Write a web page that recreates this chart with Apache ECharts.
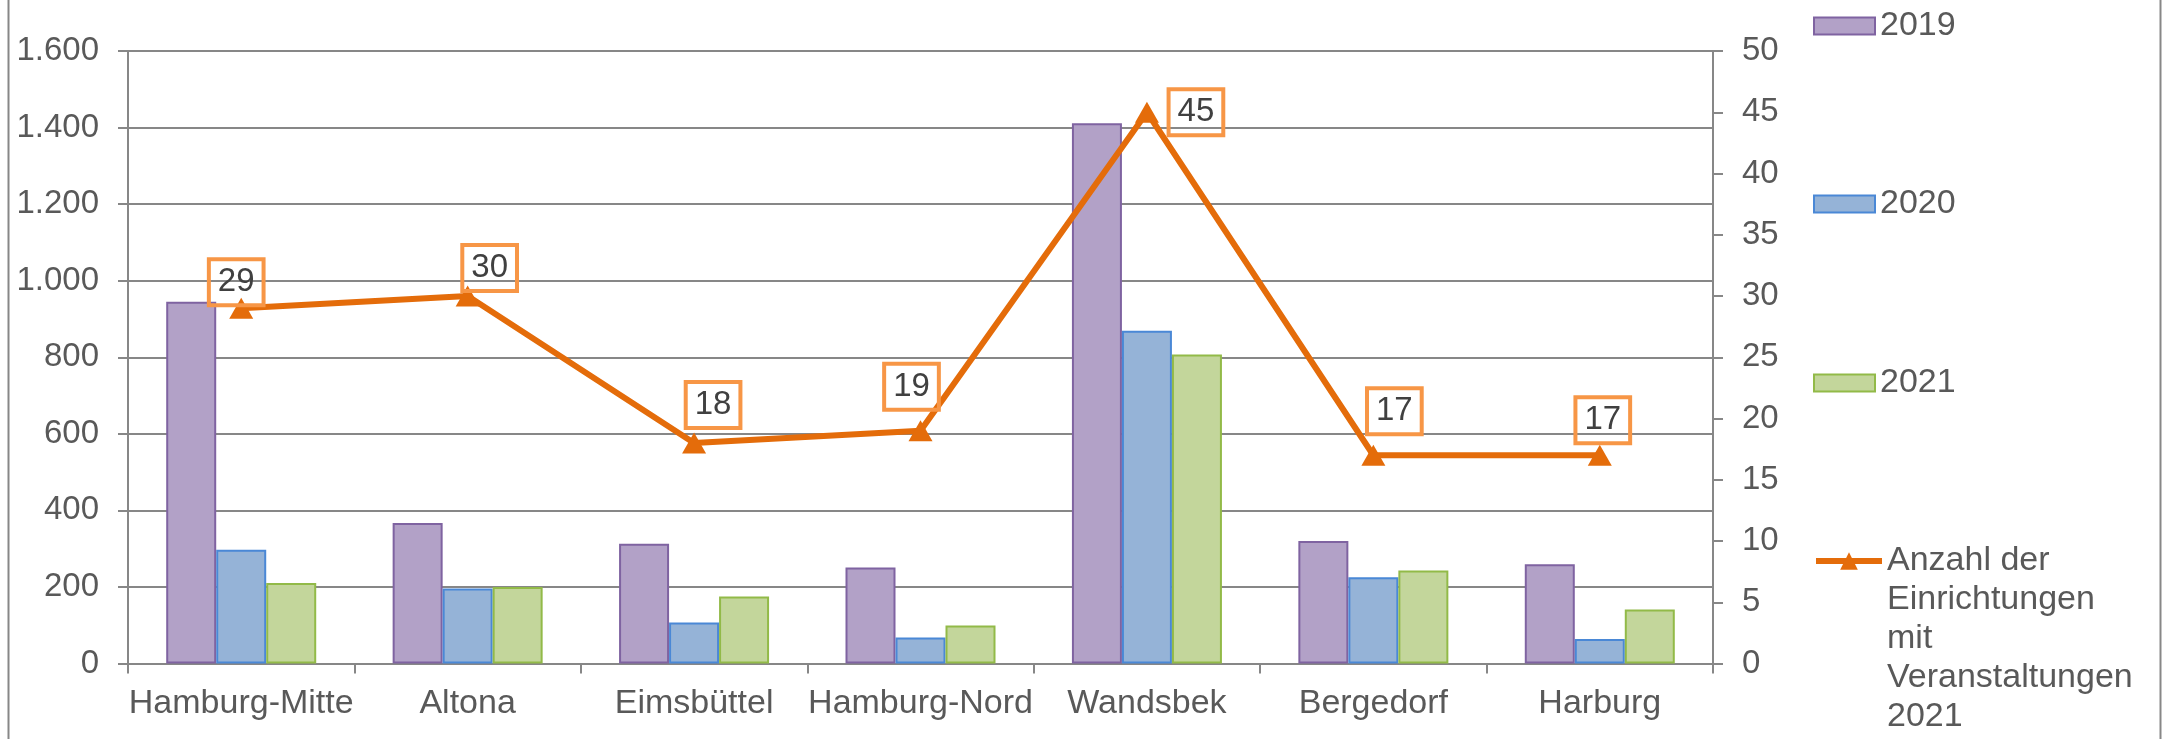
<!DOCTYPE html>
<html>
<head>
<meta charset="utf-8">
<script src="https://cdn.jsdelivr.net/npm/echarts@6/dist/echarts.min.js"></script>
<style>
  html, body { margin: 0; padding: 0; background: #ffffff; }
  #chart { width: 2163px; height: 739px; }
</style>
</head>
<body>
<div id="chart"></div>
<script>
// ---- data ----
const categories = ['Hamburg-Mitte', 'Altona', 'Eimsbüttel', 'Hamburg-Nord', 'Wandsbek', 'Bergedorf', 'Harburg'];
const values2019 = [945, 367, 313, 251, 1411, 320, 259];
const values2020 = [297, 196, 107, 68, 869, 225, 64];
const values2021 = [210, 200, 175, 99, 807, 243, 141];
const einrichtungen2021 = [29, 30, 18, 19, 45, 17, 17];
const leftTickLabels = ['0', '200', '400', '600', '800', '1.000', '1.200', '1.400', '1.600'];
const rightTickLabels = ['0', '5', '10', '15', '20', '25', '30', '35', '40', '45', '50'];
const seriesNames = ['2019', '2020', '2021', 'Anzahl der\nEinrichtungen\nmit\nVeranstaltungen\n2021'];

// ---- presentation ----
const FONT = 'Liberation Sans, Arial, sans-serif';
const TEXT = '#595959';
const AXIS = '#878787';
const labelNudge = [[-5, -26], [22, -28], [19, -38], [-9, -44], [49, 0], [21, -44], [3, -35]];

const chart = echarts.init(document.getElementById('chart'), null, { renderer: 'canvas' });

const barSeries = (name, data, fill, stroke) => ({
  name, type: 'bar', data, yAxisIndex: 0,
  barWidth: 50, barGap: '0%',
  itemStyle: { color: fill, borderColor: stroke, borderWidth: 2 },
  emphasis: { disabled: true }
});

const lineData = einrichtungen2021.map((v, i) => ({
  value: v,
  label: { offset: labelNudge[i] }
}));

const legendCommon = {
  orient: 'vertical', left: 1808,
  itemWidth: 61, itemHeight: 17, itemGap: 0,
  selectedMode: false,
  textStyle: { fontFamily: FONT, fontSize: 34, color: TEXT, lineHeight: 38 }
};

chart.setOption({
  animation: false,
  backgroundColor: '#ffffff',
  textStyle: { fontFamily: FONT },
  graphic: [{
    type: 'rect', left: 6, top: -10,
    shape: { width: 2152, height: 760 },
    style: { fill: 'none', stroke: AXIS, lineWidth: 2 },
    silent: true
  }],
  grid: { left: 128, right: 450, top: 51, bottom: 75.5, containLabel: false },
  legend: [
    Object.assign({}, legendCommon, { data: [{ name: seriesNames[0], icon: 'rect' }], top: 24 - 22 }),
    Object.assign({}, legendCommon, { data: [{ name: seriesNames[1], icon: 'rect' }], top: 203 - 23 }),
    Object.assign({}, legendCommon, { data: [{ name: seriesNames[2], icon: 'rect' }], top: 381 - 22 }),
    Object.assign({}, legendCommon, {
      data: [{ name: seriesNames[3] }],
      itemWidth: 66, itemHeight: 22,
      lineStyle: { width: 6, color: '#E46C0A' },
      itemStyle: { color: '#E46C0A' },
      textStyle: { fontFamily: FONT, fontSize: 34, color: TEXT, lineHeight: 39 },
      formatter: n => '\n\n\n\n' + n,
      top: 556 - 175.5
    })
  ],
  xAxis: {
    type: 'category', data: categories, boundaryGap: true,
    axisLine: { show: true, lineStyle: { color: AXIS, width: 2 } },
    axisTick: { show: true, interval: 0, length: 10, lineStyle: { color: AXIS, width: 2 } },
    axisLabel: { interval: 0, margin: 23, fontSize: 34, color: TEXT, fontFamily: FONT },
    splitLine: { show: false }
  },
  yAxis: [{
    type: 'value', min: 0, max: 1600, interval: 200, position: 'left',
    axisLine: { show: true, lineStyle: { color: AXIS, width: 2 } },
    axisTick: { show: true, length: 10, lineStyle: { color: AXIS, width: 2 } },
    axisLabel: { margin: 29, fontSize: 33, color: TEXT, fontFamily: FONT,
      formatter: v => leftTickLabels[Math.round(v / 200)] },
    splitLine: { show: true, lineStyle: { color: AXIS, width: 2 } }
  }, {
    type: 'value', min: 0, max: 50, interval: 5, position: 'right',
    axisLine: { show: true, lineStyle: { color: AXIS, width: 2 } },
    axisTick: { show: true, length: 10, lineStyle: { color: AXIS, width: 2 } },
    axisLabel: { margin: 29, fontSize: 33, color: TEXT, fontFamily: FONT,
      formatter: v => rightTickLabels[Math.round(v / 5)] },
    splitLine: { show: false }
  }],
  series: [
    barSeries(seriesNames[0], values2019, '#B2A1C7', '#7F63A1'),
    barSeries(seriesNames[1], values2020, '#95B3D7', '#4A88D6'),
    barSeries(seriesNames[2], values2021, '#C3D69B', '#92BA48'),
    {
      name: seriesNames[3], type: 'line', yAxisIndex: 1, data: lineData, z: 5,
      symbol: 'triangle', symbolSize: [24, 21], symbolKeepAspect: false,
      lineStyle: { color: '#E46C0A', width: 6 },
      itemStyle: { color: '#E46C0A' },
      emphasis: { disabled: true },
      label: {
        show: true, position: 'inside',
        fontSize: 33, color: '#404040', fontFamily: FONT, lineHeight: 32,
        borderColor: '#F79646', borderWidth: 2, padding: [7, 9, 7, 9],
        backgroundColor: 'transparent'
      }
    }
  ]
});
</script>
</body>
</html>
